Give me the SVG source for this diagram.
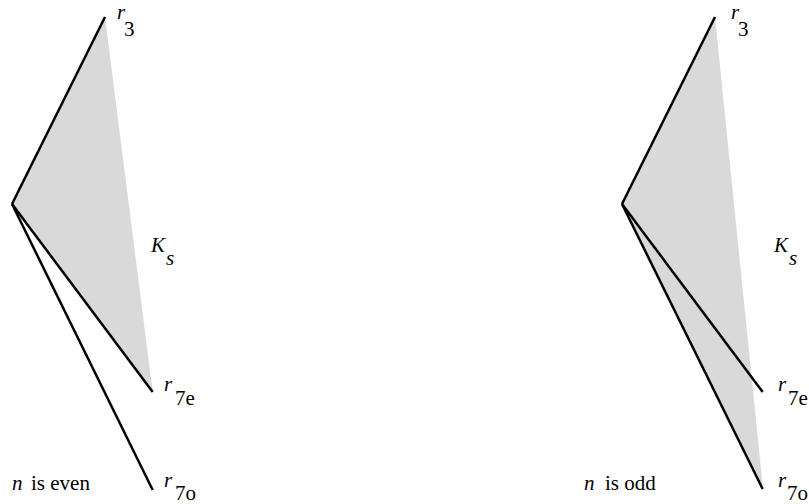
<svg xmlns="http://www.w3.org/2000/svg" width="809" height="504" viewBox="0 0 809 504">
<style>
.ln{stroke:#000;stroke-width:2.5;fill:none}
.sh{fill:#d9d9d9;stroke:none}
text{font-family:'Liberation Serif','Times New Roman',Times,serif;font-size:21px;fill:#000}
.i{font-style:italic}
</style>
<rect width="809" height="504" fill="#fff"/>
<g id="left-shade"><polygon class="sh" points="12,204 105,17 152.7,392"/></g>
<g id="right-shade"><polygon class="sh" points="622,204 715,17 763,489"/></g>
<g id="connectors">
<line class="ln" x1="12" y1="204" x2="105" y2="17"/>
<line class="ln" x1="12" y1="204" x2="152.7" y2="392"/>
<line class="ln" x1="12" y1="204" x2="152.7" y2="490"/>
<line class="ln" x1="622" y1="204" x2="715" y2="17"/>
<line class="ln" x1="622" y1="204" x2="762.7" y2="392"/>
<line class="ln" x1="622" y1="204" x2="762.7" y2="489"/>
</g>
<g id="left-labels">
<text class="i" x="117" y="19">r</text><text x="124" y="36">3</text>
<text class="i" x="151" y="252">K</text><text class="i" x="166" y="265">s</text>
<text class="i" x="164" y="391">r</text><text x="175" y="405">7e</text>
<text class="i" x="164" y="487">r</text><text x="175" y="500">7o</text>
<text class="i" x="12" y="490">n</text><text x="31" y="490">is even</text>
</g>
<g id="right-labels">
<text class="i" x="731" y="19">r</text><text x="738" y="36">3</text>
<text class="i" x="774" y="252">K</text><text class="i" x="789" y="265">s</text>
<text class="i" x="778" y="391">r</text><text x="788" y="405">7e</text>
<text class="i" x="778" y="487">r</text><text x="787" y="500">7o</text>
<text class="i" x="584" y="490">n</text><text x="605" y="490">is odd</text>
</g>
</svg>
